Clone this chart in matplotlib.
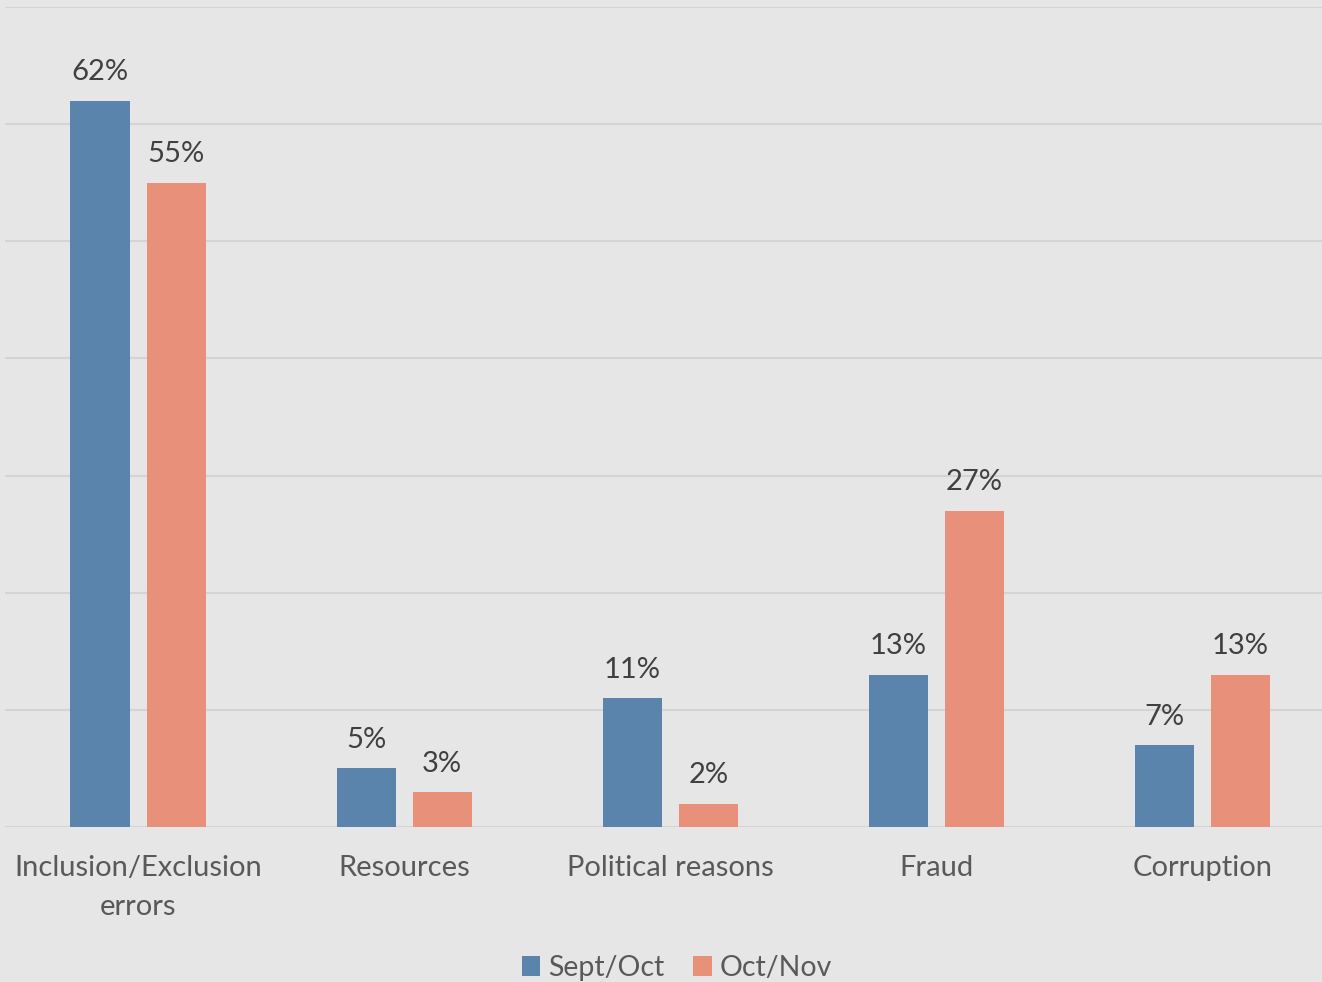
import numpy as np
import matplotlib.pyplot as plt
from matplotlib.patches import Patch

# Reasons cited, share of respondents per survey round
categories = ['Inclusion/Exclusion\nerrors', 'Resources', 'Political reasons', 'Fraud', 'Corruption']
sept_oct = [62, 5, 11, 13, 7]
oct_nov = [55, 3, 2, 27, 13]
series_names = ['Sept/Oct', 'Oct/Nov']

blue = '#5b84ad'
orange = '#e8907a'
bg = '#e6e6e6'

plt.rcParams['font.family'] = ['Lato', 'DejaVu Sans']

fig = plt.figure(figsize=(13.22, 9.82), dpi=100, facecolor=bg)
ax = fig.add_axes([5 / 1322, 1 - 827 / 982, 1 - 5 / 1322, 820 / 982])
ax.set_facecolor(bg)

x = np.arange(len(categories))
w = 0.222
off = 0.143
b1 = ax.bar(x - off, sept_oct, width=w, color=blue, zorder=3)
b2 = ax.bar(x + off, oct_nov, width=w, color=orange, zorder=3)

# value labels above each bar
for bars, vals in [(b1, sept_oct), (b2, oct_nov)]:
    for rect, v in zip(bars, vals):
        ax.annotate(f'{v}%', (rect.get_x() + rect.get_width() / 2, v),
                    xytext=(0, 11), textcoords='offset points',
                    ha='center', va='bottom', fontsize=21, color='#404040')

ax.set_ylim(0, 70)
ax.set_xlim(-0.5, 4.45)
ax.set_yticks(np.arange(0, 71, 10))
ax.yaxis.grid(True, color='#d4d4d4', linewidth=1.5, zorder=0)
ax.tick_params(axis='y', left=False, labelleft=False)
ax.tick_params(axis='x', bottom=False, pad=17)
ax.set_xticks(x)
ax.set_xticklabels(categories, fontsize=21, color='#595959', linespacing=1.6)
for s in ax.spines.values():
    s.set_visible(False)

handles = [Patch(facecolor=blue, label=series_names[0]),
           Patch(facecolor=orange, label=series_names[1])]
fig.legend(handles=handles, loc='center', bbox_to_anchor=(0.512, 1 - 968 / 982),
           ncol=2, frameon=False, fontsize=20.5, labelcolor='#595959',
           handlelength=0.65, handleheight=0.65, handletextpad=0.28, columnspacing=1.0)

fig.savefig('out.png', dpi=100, facecolor=bg)
